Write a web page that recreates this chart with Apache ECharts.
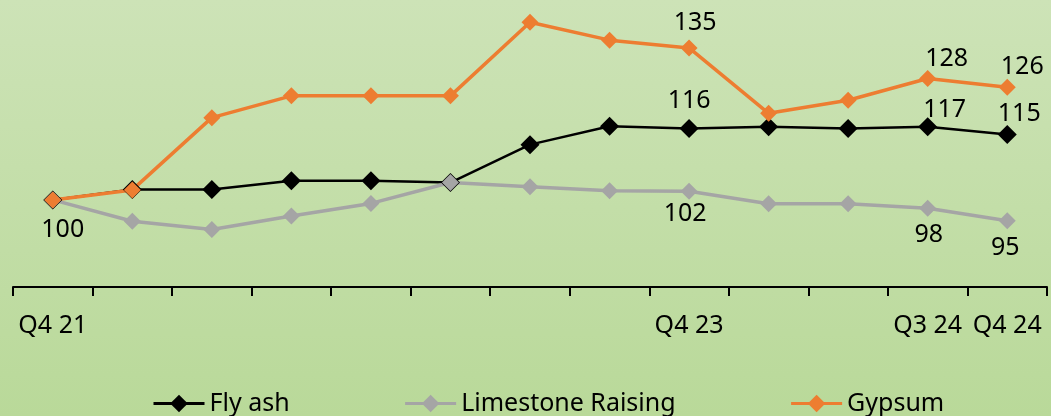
<!DOCTYPE html>
<html>
<head>
<meta charset="utf-8">
<script src="https://cdn.jsdelivr.net/npm/echarts@6/dist/echarts.min.js"></script>
<style>
  html, body { margin: 0; padding: 0; }
  #chart { width: 1051px; height: 416px; }
</style>
</head>
<body>
<div id="chart"></div>
<script>
const categories = ['Q4 21','Q1 22','Q2 22','Q3 22','Q4 22','Q1 23','Q2 23','Q3 23','Q4 23','Q1 24','Q2 24','Q3 24','Q4 24'];
const shownTickLabels = ['Q4 21','Q4 23','Q3 24','Q4 24'];
const flyAsh    = [100, 102.4, 102.4, 104.4, 104.4, 104.0, 112.7, 116.9, 116.4, 116.8, 116.4, 116.8, 115.0];
const limestone = [100,  95.1,  93.2,  96.3,  99.2, 104.0, 103.0, 102.1, 102.0,  99.1,  99.1,  98.1,  95.2];
const gypsum    = [100, 102.3, 118.9, 123.9, 123.9, 123.9, 140.8, 136.7, 134.9, 119.9, 122.9, 127.9, 125.9];
const seriesNames = ['Fly ash', 'Limestone Raising', 'Gypsum'];
// which points carry a value label: [index, displayed text]
const flyAshLabels    = [[8, '116'], [11, '117'], [12, '115']];
const limestoneLabels = [[0, '100'], [8, '102'], [11, '98'], [12, '95']];
const gypsumLabels    = [[8, '135'], [11, '128'], [12, '126']];

const FONT = '"Noto Sans", sans-serif';

function buildData(values, labels, pos, offsets) {
  const map = {};
  labels.forEach((l, i) => { map[l[0]] = { text: l[1], off: offsets[i] }; });
  return values.map((v, i) => {
    if (!map[i]) return v;
    return {
      value: v,
      label: {
        show: true,
        position: pos,
        distance: 6,
        offset: map[i].off,
        formatter: map[i].text,
        fontFamily: FONT,
        fontSize: 25,
        color: '#000'
      }
    };
  });
}

const chart = echarts.init(document.getElementById('chart'));
chart.setOption({
  animation: false,
  backgroundColor: {
    type: 'linear', x: 0, y: 0, x2: 0, y2: 1,
    colorStops: [
      { offset: 0, color: '#cde3b7' },
      { offset: 1, color: '#b9d999' }
    ]
  },
  grid: { left: 13, right: 4, top: 4, bottom: 129 },
  legend: {
    data: seriesNames,
    left: 147,
    top: 386,
    itemWidth: 51,
    itemHeight: 22,
    itemGap: 114,
    lineStyle: { width: 3 },
    textStyle: { fontFamily: FONT, fontSize: 25, color: '#000' }
  },
  xAxis: {
    type: 'category',
    data: categories,
    boundaryGap: true,
    axisLine: { lineStyle: { color: '#000', width: 2 } },
    axisTick: { show: true, interval: 0, length: 9, lineStyle: { color: '#000', width: 2 } },
    axisLabel: {
      interval: (idx, val) => shownTickLabels.indexOf(val) >= 0,
      margin: 26,
      fontFamily: FONT,
      fontSize: 25,
      color: '#000'
    },
    splitLine: { show: false }
  },
  yAxis: {
    type: 'value',
    min: 80,
    max: 145,
    show: false,
    splitLine: { show: false }
  },
  series: [
    {
      name: seriesNames[0],
      type: 'line',
      data: buildData(flyAsh, flyAshLabels, 'top', [[0, 0], [17, 11], [12, 7]]),
      symbol: 'diamond',
      symbolSize: 19,
      color: '#000000',
      lineStyle: { width: 2.5, color: '#000000' },
      itemStyle: { color: '#000000' }
    },
    {
      name: seriesNames[1],
      type: 'line',
      data: buildData(limestone, limestoneLabels, 'bottom', [[10, 3], [-4, -4], [1, 0], [-2, 0]]),
      symbol: 'diamond',
      symbolSize: 17,
      color: '#a5a5a5',
      lineStyle: { width: 3.5, color: '#a5a5a5' },
      itemStyle: { color: '#a5a5a5' }
    },
    {
      name: seriesNames[2],
      type: 'line',
      data: buildData(gypsum, gypsumLabels, 'top', [[6, 2], [19, 7], [15, 7]]),
      symbol: 'diamond',
      symbolSize: 17,
      color: '#ed7d31',
      lineStyle: { width: 3.5, color: '#ed7d31' },
      itemStyle: { color: '#ed7d31' }
    }
  ]
});
</script>
</body>
</html>
